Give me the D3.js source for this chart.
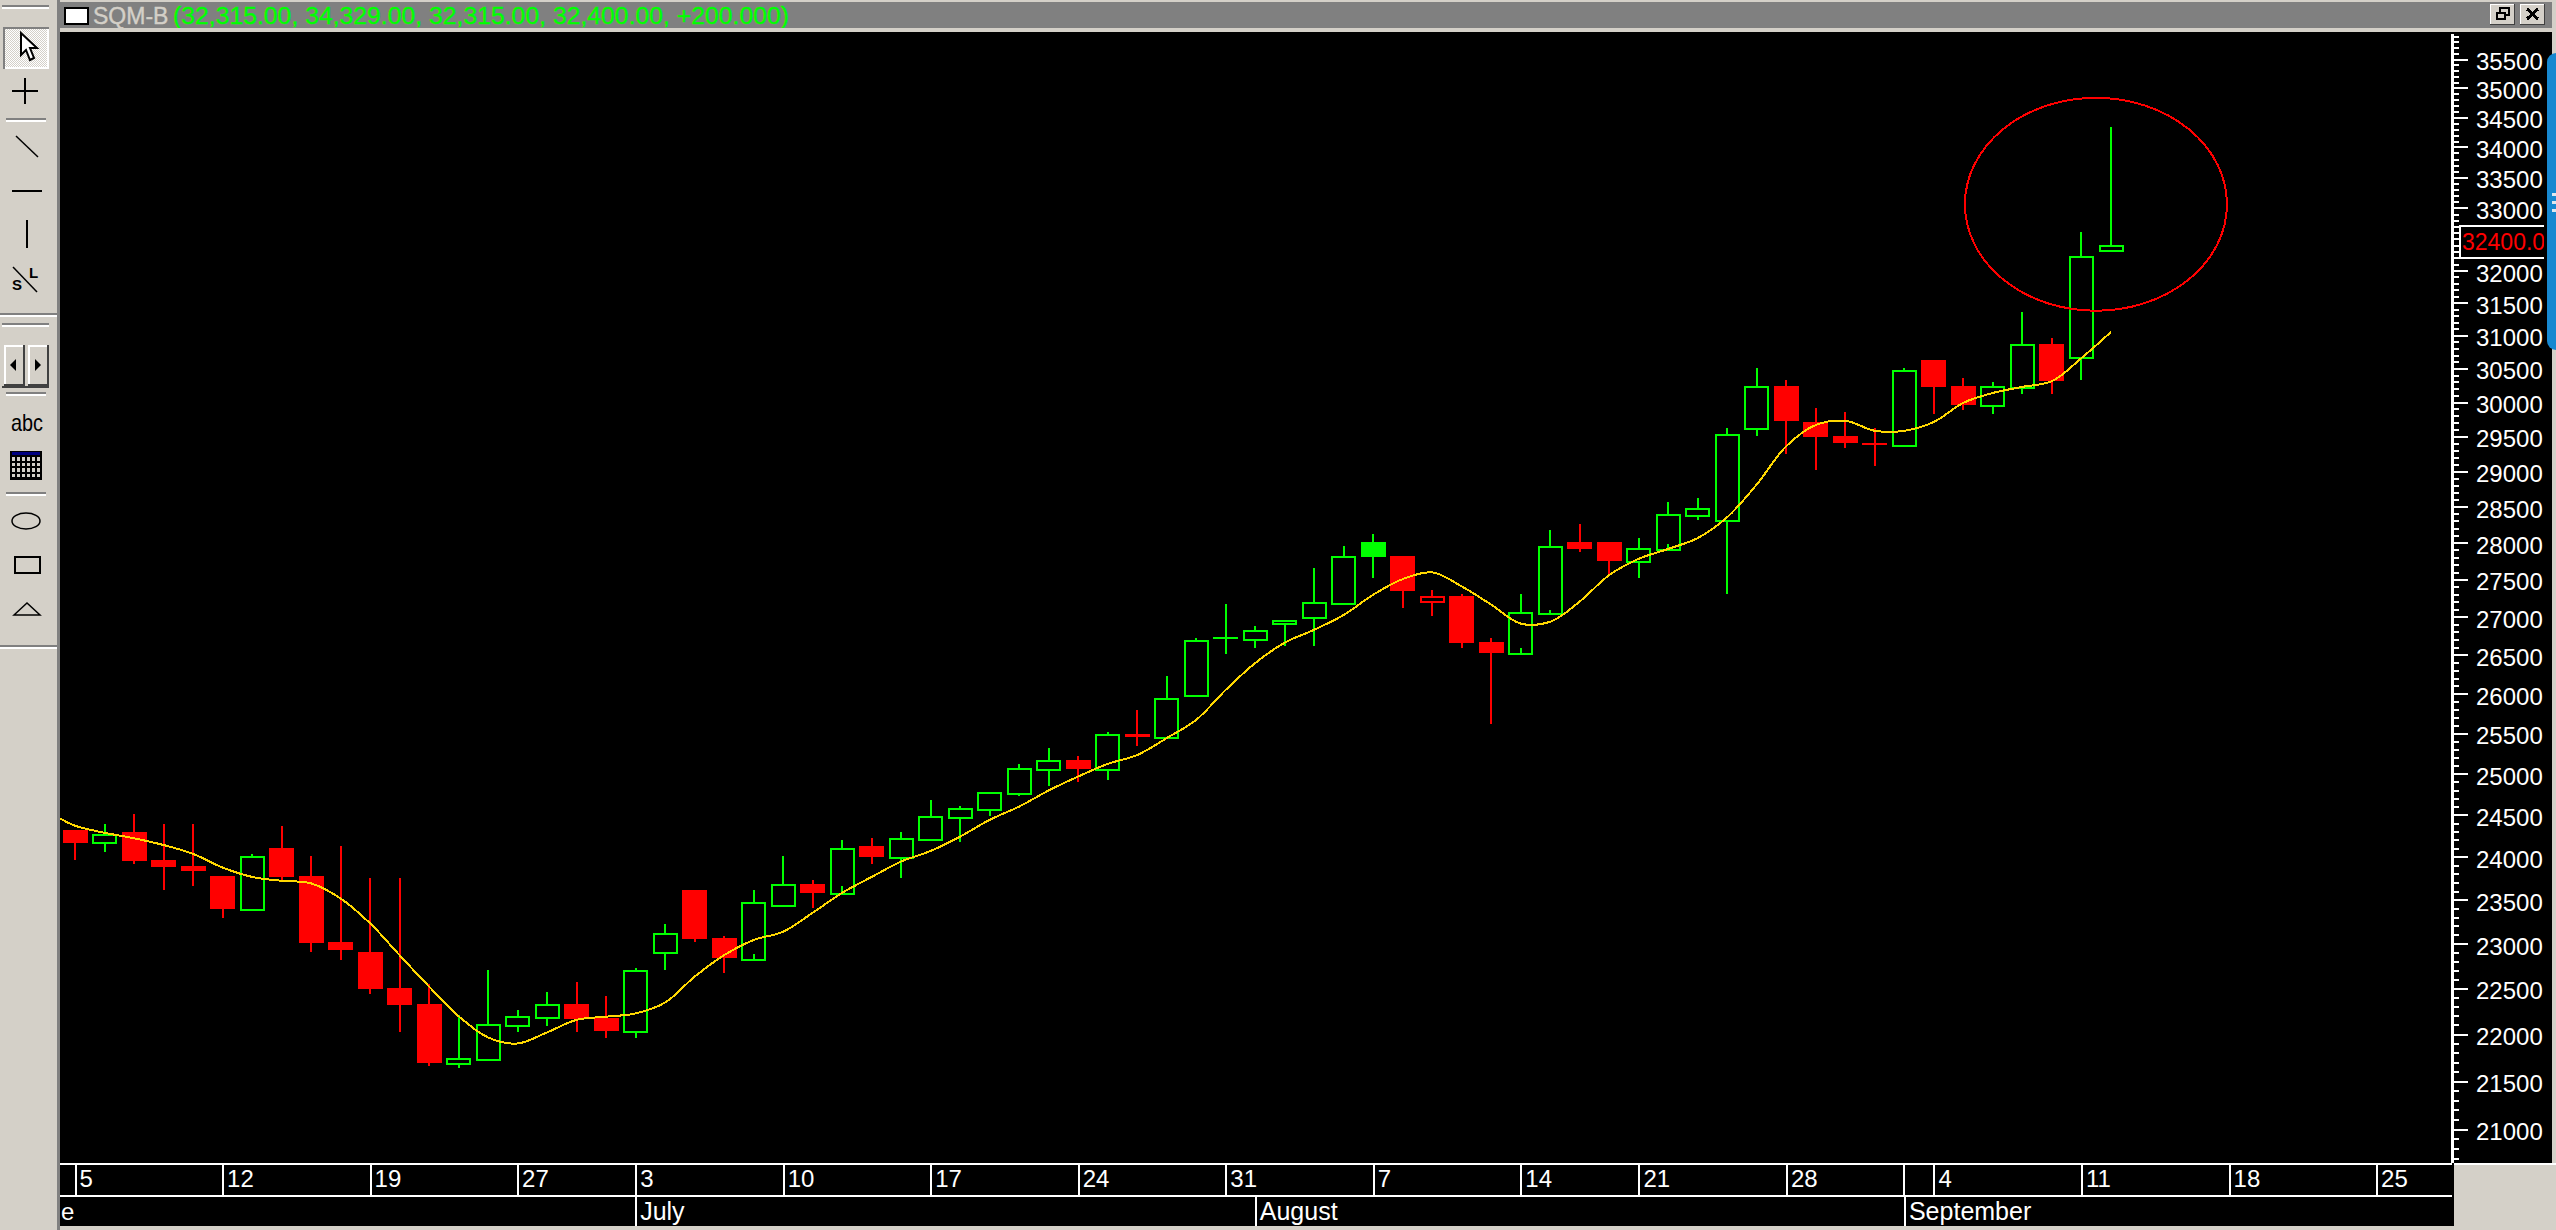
<!DOCTYPE html>
<html>
<head>
<meta charset="utf-8">
<script src="https://cdn.jsdelivr.net/npm/d3@7/dist/d3.min.js"></script>
<style>
html,body{margin:0;padding:0;background:#d4d0c8;overflow:hidden}
svg{display:block}
text{font-family:"Liberation Sans",Arial,sans-serif}
</style>
</head>
<body>
<svg id="c" width="2556" height="1230"></svg>
<script>
const symbol = "SQM-B";
const quote = "(32,315.00, 34,329.00, 32,315.00, 32,400.00, +200.000)";
const lastPriceLabel = "32400.00";
const lastPrice = 32400;

const opens = [24320,24160,24295,23965,23895,23775,23385,24105,23775,23020,22905,22505,22330,21680,21720,22090,22175,22330,22175,22025,22890,23615,23065,22820,23430,23685,23570,24130,23985,24200,24460,24560,24755,25045,25170,25045,25490,25440,25970,26725,26700,26910,26985,27175,28010,27820,27200,27280,26670,26510,27040,28010,28010,27735,27900,28370,28300,29600,30240,29710,29505,29410,29360,30625,30240,29940,30210,30865,30655,32315];
const highs = [24320,24390,24510,24390,24390,23775,24035,24365,24010,24130,23755,23755,22550,22205,22705,22260,22460,22570,22415,22730,23225,23615,23090,23615,24010,23730,24200,24225,24295,24680,24605,24780,25120,25320,25220,25515,25795,26230,26720,27170,26880,26960,27655,27955,28120,27820,27360,27305,26725,27305,28175,28260,28010,28065,28565,28620,29620,30505,30325,29910,29855,29620,30505,30625,30355,30295,31355,30960,32610,34329];
const lows = [23965,24055,23915,23610,23660,23290,23385,23730,22905,22815,22440,22020,21660,21635,21720,22025,22090,22025,21960,21960,22705,23020,22665,22820,23430,23405,23570,23915,23755,24200,24175,24485,24730,24850,24900,24925,25340,25440,25970,26515,26595,26620,26620,27175,27520,27120,27015,26595,25620,26510,27040,27875,27575,27520,27900,28315,27310,29505,29245,29015,29335,29070,29360,29825,29885,29825,30120,30120,30325,32315];
const closes = [24175,24270,23965,23895,23845,23405,24005,23775,23020,22935,22505,22330,21700,21745,22110,22195,22330,22175,22045,22705,23115,23065,22845,23475,23685,23590,24105,24010,24225,24485,24580,24780,25070,25170,25070,25490,25480,25950,26690,26735,26830,26960,27200,27820,27820,27360,27280,26670,26540,27065,27955,27930,27765,27930,28400,28480,29535,30240,29740,29505,29420,29400,30475,30240,29970,30240,30865,30325,32230,32400];
const direction = ["d","u","d","d","d","d","u","d","d","d","d","d","d","u","u","u","u","d","d","u","u","d","d","u","u","d","u","d","u","u","u","u","u","u","d","u","d","u","u","u","u","u","u","u","u","d","d","d","d","u","u","d","d","u","u","u","u","u","d","d","d","d","u","d","d","u","u","d","u","u"];
// short stubs seen inside a few hollow bodies: session and the price they rise to
const stubSessions = [23,26,49,50,54];
const stubPrices = [22885,23665,26595,27090,27980];
// first value belongs half a session before the first candle
const movingAverage = [24455,24370,24285,24220,24140,24035,23875,23765,23720,23690,23515,23230,22870,22520,22195,21965,21900,22020,22155,22190,22225,22345,22630,22870,23040,23135,23350,23580,23765,23945,24070,24240,24440,24600,24795,24965,25120,25230,25440,25670,26050,26395,26660,26830,27025,27295,27505,27595,27405,27160,26910,26935,27205,27560,27780,27915,28065,28355,28815,29360,29665,29725,29580,29580,29710,29990,30135,30225,30310,30655,31050];

const majorPrices = [35500,35000,34500,34000,33500,33000,32500,32000,31500,31000,30500,30000,29500,29000,28500,28000,27500,27000,26500,26000,25500,25000,24500,24000,23500,23000,22500,22000,21500,21000];
const hiddenLabelPrice = 32500; // covered by the last-price box in the reference
const dayTickIndex = [0,5,10,15,19,24,29,34,39,44,49,53,58,63,68,73,78];
const dayTickLabels = ["5","12","19","27","3","10","17","24","31","7","14","21","28","4","11","18","25"];
const monthIndex = [19,40,62];
const monthLabels = ["July","August","September"];
const partialMonthLabel = "e";
// drawn ellipse: session range and price range it spans
const circleSessions = [64.05,72.93];
const circlePrices = [34830,31375];

const GRAY="#d4d0c8", MID="#808080", WHITE="#ffffff", GREEN="#00ff00", RED="#ff0000", YEL="#ffd700";
const W=2556,H=1230;
const svg=d3.select("#c");

const x=d3.scaleLinear().domain([0,69]).range([75,2111]);
const y=d3.scaleLog().domain([21000,35500]).range([1129,59]);
const bodyW=25;

function rect(g,a,b,w,h,f){return g.append("rect").attr("x",a).attr("y",b).attr("width",w).attr("height",h).attr("fill",f).attr("shape-rendering","crispEdges");}
function line(g,a,b,c,d,s,w){return g.append("line").attr("x1",a).attr("y1",b).attr("x2",c).attr("y2",d).attr("stroke",s||"#000").attr("stroke-width",w||2).attr("shape-rendering","crispEdges");}

rect(svg,0,0,W,H,GRAY);
rect(svg,60,32,2492,1194,"#000");

/* ---------- window title bar ---------- */
const tb=svg.append("g");
rect(tb,60,2,2492,26,MID);
rect(tb,64,7,25,18,"#000");
rect(tb,66,9,21,14,WHITE);
tb.append("text").attr("x",93).attr("y",24).attr("font-size",23).attr("fill",GRAY).attr("stroke",GRAY).attr("stroke-width",0.4).text(symbol);
tb.append("text").attr("x",173).attr("y",24).attr("font-size",23).attr("fill",GREEN).attr("stroke",GREEN).attr("stroke-width",0.4)
  .attr("textLength",616).attr("lengthAdjust","spacingAndGlyphs").text(quote);
[[2490,"r"],[2520,"x"]].forEach(([bx,k])=>{
  rect(tb,bx,4,25,21,GRAY);
  rect(tb,bx,4,25,1,WHITE); rect(tb,bx,4,1,21,WHITE);
  rect(tb,bx+24,4,1,21,"#404040"); rect(tb,bx,24,25,1,"#404040");
  if(k==="r"){
    tb.append("rect").attr("x",bx+10).attr("y",8).attr("width",9).attr("height",7).attr("fill","none").attr("stroke","#000").attr("stroke-width",2).attr("shape-rendering","crispEdges");
    tb.append("rect").attr("x",bx+7).attr("y",13).attr("width",8).attr("height",6).attr("fill",GRAY).attr("stroke","#000").attr("stroke-width",2).attr("shape-rendering","crispEdges");
  } else {
    line(tb,bx+7,9,bx+18,19,"#000",3); line(tb,bx+18,9,bx+7,19,"#000",3);
  }
});

/* ---------- left toolbar ---------- */
const tk=svg.append("g");
rect(tk,57,0,3,H,MID);
function groove(a,b,w){rect(tk,a,b,w,2,MID);rect(tk,a,b+2,w,2,WHITE);}
groove(2,5,47);
rect(tk,3,27,46,42,WHITE); rect(tk,3,27,46,2,MID); rect(tk,3,27,2,42,MID);
const defs=svg.append("defs");
const pat=defs.append("pattern").attr("id","dither").attr("width",2).attr("height",2).attr("patternUnits","userSpaceOnUse");
pat.append("rect").attr("width",2).attr("height",2).attr("fill",WHITE);
pat.append("rect").attr("width",1).attr("height",1).attr("fill",GRAY);
pat.append("rect").attr("x",1).attr("y",1).attr("width",1).attr("height",1).attr("fill",GRAY);
rect(tk,5,29,42,38,"url(#dither)");
tk.append("path").attr("d","M21 33 L21 55 L26 50 L30 60 L34 58 L30 48 L37 48 Z").attr("fill",WHITE).attr("stroke","#000").attr("stroke-width",2);
line(tk,12,91,38,91); line(tk,25,78,25,104);
groove(6,118,40);
tk.append("line").attr("x1",16).attr("y1",136).attr("x2",38).attr("y2",157).attr("stroke","#000").attr("stroke-width",1.5);
line(tk,12,191,42,191);
line(tk,27,220,27,248);
tk.append("line").attr("x1",13).attr("y1",267).attr("x2",37).attr("y2",292).attr("stroke","#000").attr("stroke-width",1.5);
tk.append("text").attr("x",29).attr("y",278).attr("font-size",15).attr("font-weight","bold").attr("fill","#000").text("L");
tk.append("text").attr("x",12).attr("y",290).attr("font-size",15).attr("font-weight","bold").attr("fill","#000").text("S");
rect(tk,0,313,57,2,MID); rect(tk,0,315,57,2,WHITE);
groove(2,323,47);
[4,28].forEach((bx,i)=>{
  rect(tk,bx,345,21,41,"#404040");
  rect(tk,bx,345,19,39,WHITE);
  rect(tk,bx+2,347,17,37,GRAY);
  const cx=bx+(i?10:9);
  tk.append("path").attr("d",i?`M${cx-3} 359 L${cx+3} 365 L${cx-3} 371 Z`:`M${cx+3} 359 L${cx-3} 365 L${cx+3} 371 Z`).attr("fill","#000");
});
rect(tk,2,386,47,2,"#404040");
groove(6,392,40);
tk.append("text").attr("x",11).attr("y",431).attr("font-size",24).attr("fill","#000").attr("textLength",32).attr("lengthAdjust","spacingAndGlyphs").text("abc");
rect(tk,10,451,32,29,"#000");
rect(tk,12,452,28,3,"#000080");
d3.range(6).forEach(c=>d3.range(4).forEach(r=>rect(tk,12+c*5,457+r*5.6,3,3.6,"#d4d0c8")));
groove(6,492,40);
tk.append("ellipse").attr("cx",26).attr("cy",521).attr("rx",14).attr("ry",8).attr("fill","none").attr("stroke","#000").attr("stroke-width",1.5);
tk.append("rect").attr("x",15).attr("y",557).attr("width",25).attr("height",16).attr("fill","none").attr("stroke","#000").attr("stroke-width",2).attr("shape-rendering","crispEdges");
tk.append("path").attr("d","M14 615 L27 603 L40 615 Z").attr("fill","none").attr("stroke","#000").attr("stroke-width",1.5);
rect(tk,0,645,57,2,MID); rect(tk,0,647,57,2,WHITE);

/* ---------- candles ---------- */
const data=opens.map((o,i)=>({i,o,h:highs[i],l:lows[i],c:closes[i],d:direction[i]}));
const candles=svg.append("g").selectAll("g").data(data).join("g");
candles.append("line")
  .attr("x1",d=>x(d.i)).attr("x2",d=>x(d.i))
  .attr("y1",d=>y(d.h)).attr("y2",d=>y(d.l))
  .attr("stroke",d=>d.d==="u"?GREEN:RED).attr("stroke-width",2).attr("shape-rendering","crispEdges");
candles.append("rect")
  .attr("x",d=>x(d.i)-bodyW/2+1)
  .attr("width",bodyW-2)
  .attr("y",d=>y(Math.max(d.o,d.c))+1)
  .attr("height",d=>Math.max(y(Math.min(d.o,d.c))-y(Math.max(d.o,d.c))-1,0.5))
  .attr("fill",d=>d.c>=d.o?"#000":(d.d==="u"?GREEN:RED))
  .attr("stroke",d=>d.d==="u"?GREEN:RED).attr("stroke-width",2)
  .attr("shape-rendering","crispEdges");
svg.append("g").selectAll("line").data(stubSessions).join("line")
  .attr("x1",d=>x(d)).attr("x2",d=>x(d))
  .attr("y1",d=>y(opens[d])).attr("y2",(d,i)=>y(stubPrices[i]))
  .attr("stroke",GREEN).attr("stroke-width",2).attr("shape-rendering","crispEdges");

/* ---------- moving average ---------- */
svg.append("path").datum(movingAverage)
  .attr("d",d3.line().x((d,i)=>x(i===0?-0.5:i-1)).y(d=>y(d)).curve(d3.curveCatmullRom.alpha(0.5)))
  .attr("fill","none").attr("stroke",YEL).attr("stroke-width",2).attr("shape-rendering","crispEdges");

/* ---------- drawn ellipse ---------- */
svg.append("ellipse")
  .attr("cx",(x(circleSessions[0])+x(circleSessions[1]))/2)
  .attr("cy",(y(circlePrices[0])+y(circlePrices[1]))/2)
  .attr("rx",(x(circleSessions[1])-x(circleSessions[0]))/2)
  .attr("ry",(y(circlePrices[1])-y(circlePrices[0]))/2)
  .attr("fill","none").attr("stroke",RED).attr("stroke-width",2).attr("shape-rendering","crispEdges");

/* ---------- price axis ---------- */
const AX=2452;
const minorPrices=d3.range(20700,36000,100).filter(p=>p%500!==0);
const minorAxis=d3.axisRight(y).tickValues(minorPrices).tickSize(7).tickFormat("");
const majorAxis=d3.axisRight(y).tickValues(majorPrices).tickSize(16).tickPadding(8)
  .tickFormat(p=>p===hiddenLabelPrice?"":d3.format("d")(p));
const gMin=svg.append("g").attr("transform",`translate(${AX},0)`).call(minorAxis);
const gMaj=svg.append("g").attr("transform",`translate(${AX},0)`).call(majorAxis);
[gMin,gMaj].forEach(g=>{
  g.selectAll(".domain").remove();
  g.selectAll("line").attr("stroke",WHITE).attr("stroke-width",2).attr("shape-rendering","crispEdges");
});
gMaj.selectAll("text").attr("fill",WHITE).attr("font-size",24).attr("font-family",'"Liberation Sans"').attr("dy","0.44em");
line(svg,AX,34,AX,1163,WHITE,3);

/* last price box */
const lastY=y(lastPrice);
defs.append("clipPath").attr("id","lastClip").append("rect").attr("x",2458).attr("y",lastY-22).attr("width",86).attr("height",40);
const lb=svg.append("g").attr("clip-path","url(#lastClip)");
rect(lb,2459,lastY-22,86,40,"#000");
rect(lb,2459,lastY-20,85,2,WHITE);
rect(lb,2459,lastY+12,85,2,WHITE);
rect(lb,2459,lastY-20,2,34,WHITE);
lb.append("text").attr("x",2462).attr("y",lastY+5).attr("font-size",23).attr("fill",RED).text(lastPriceLabel);

/* ---------- date axis ---------- */
const dayRowTop=1163, monthRowTop=1195, axisBottom=1226;
rect(svg,60,dayRowTop,2392,2,WHITE);
rect(svg,60,monthRowTop,2392,2,WHITE);
const dayAxis=d3.axisBottom(x).tickValues(dayTickIndex).tickSize(monthRowTop-dayRowTop)
  .tickFormat((d,i)=>dayTickLabels[i]);
const gDay=svg.append("g").attr("transform",`translate(0,${dayRowTop})`).call(dayAxis);
gDay.selectAll(".domain").remove();
gDay.selectAll("line").attr("stroke",WHITE).attr("stroke-width",2).attr("shape-rendering","crispEdges");
gDay.selectAll("text").attr("fill",WHITE).attr("font-size",24).attr("font-family",'"Liberation Sans"')
  .attr("text-anchor","start").attr("x",4).attr("y",24).attr("dy",null);
const monthAxis=d3.axisBottom(x).tickValues(monthIndex).tickSize(axisBottom-monthRowTop)
  .tickFormat((d,i)=>monthLabels[i]);
const gMonth=svg.append("g").attr("transform",`translate(0,${monthRowTop})`).call(monthAxis);
gMonth.selectAll(".domain").remove();
gMonth.selectAll("line").attr("stroke",WHITE).attr("stroke-width",2).attr("shape-rendering","crispEdges");
gMonth.selectAll("text").attr("fill",WHITE).attr("font-size",25).attr("font-family",'"Liberation Sans"')
  .attr("text-anchor","start").attr("x",4).attr("y",25).attr("dy",null);
svg.selectAll(null).data(monthIndex.slice(2)).join("line")
  .attr("x1",d=>x(d)).attr("x2",d=>x(d)).attr("y1",dayRowTop).attr("y2",monthRowTop)
  .attr("stroke",WHITE).attr("stroke-width",2).attr("shape-rendering","crispEdges");
svg.append("text").attr("x",61).attr("y",1220).attr("font-size",24).attr("fill",WHITE).text(partialMonthLabel);

/* ---------- corner, edges, side tab ---------- */
rect(svg,2450,1226,106,4,GRAY);
rect(svg,60,1226,2396,4,GRAY);
rect(svg,2454,1163,102,67,GRAY);
rect(svg,2552,0,4,H,GRAY);
rect(svg,60,0,2496,2,GRAY);
rect(svg,60,28,2492,4,GRAY);
rect(svg,2454,1163,102,2,WHITE);
svg.append("rect").attr("x",2547).attr("y",53).attr("width",20).attr("height",297).attr("rx",9).attr("fill","#1788d0");
[193,201,209].forEach(b=>rect(svg,2552,b,4,3,"#dfe7ee"));
</script>
</body>
</html>
